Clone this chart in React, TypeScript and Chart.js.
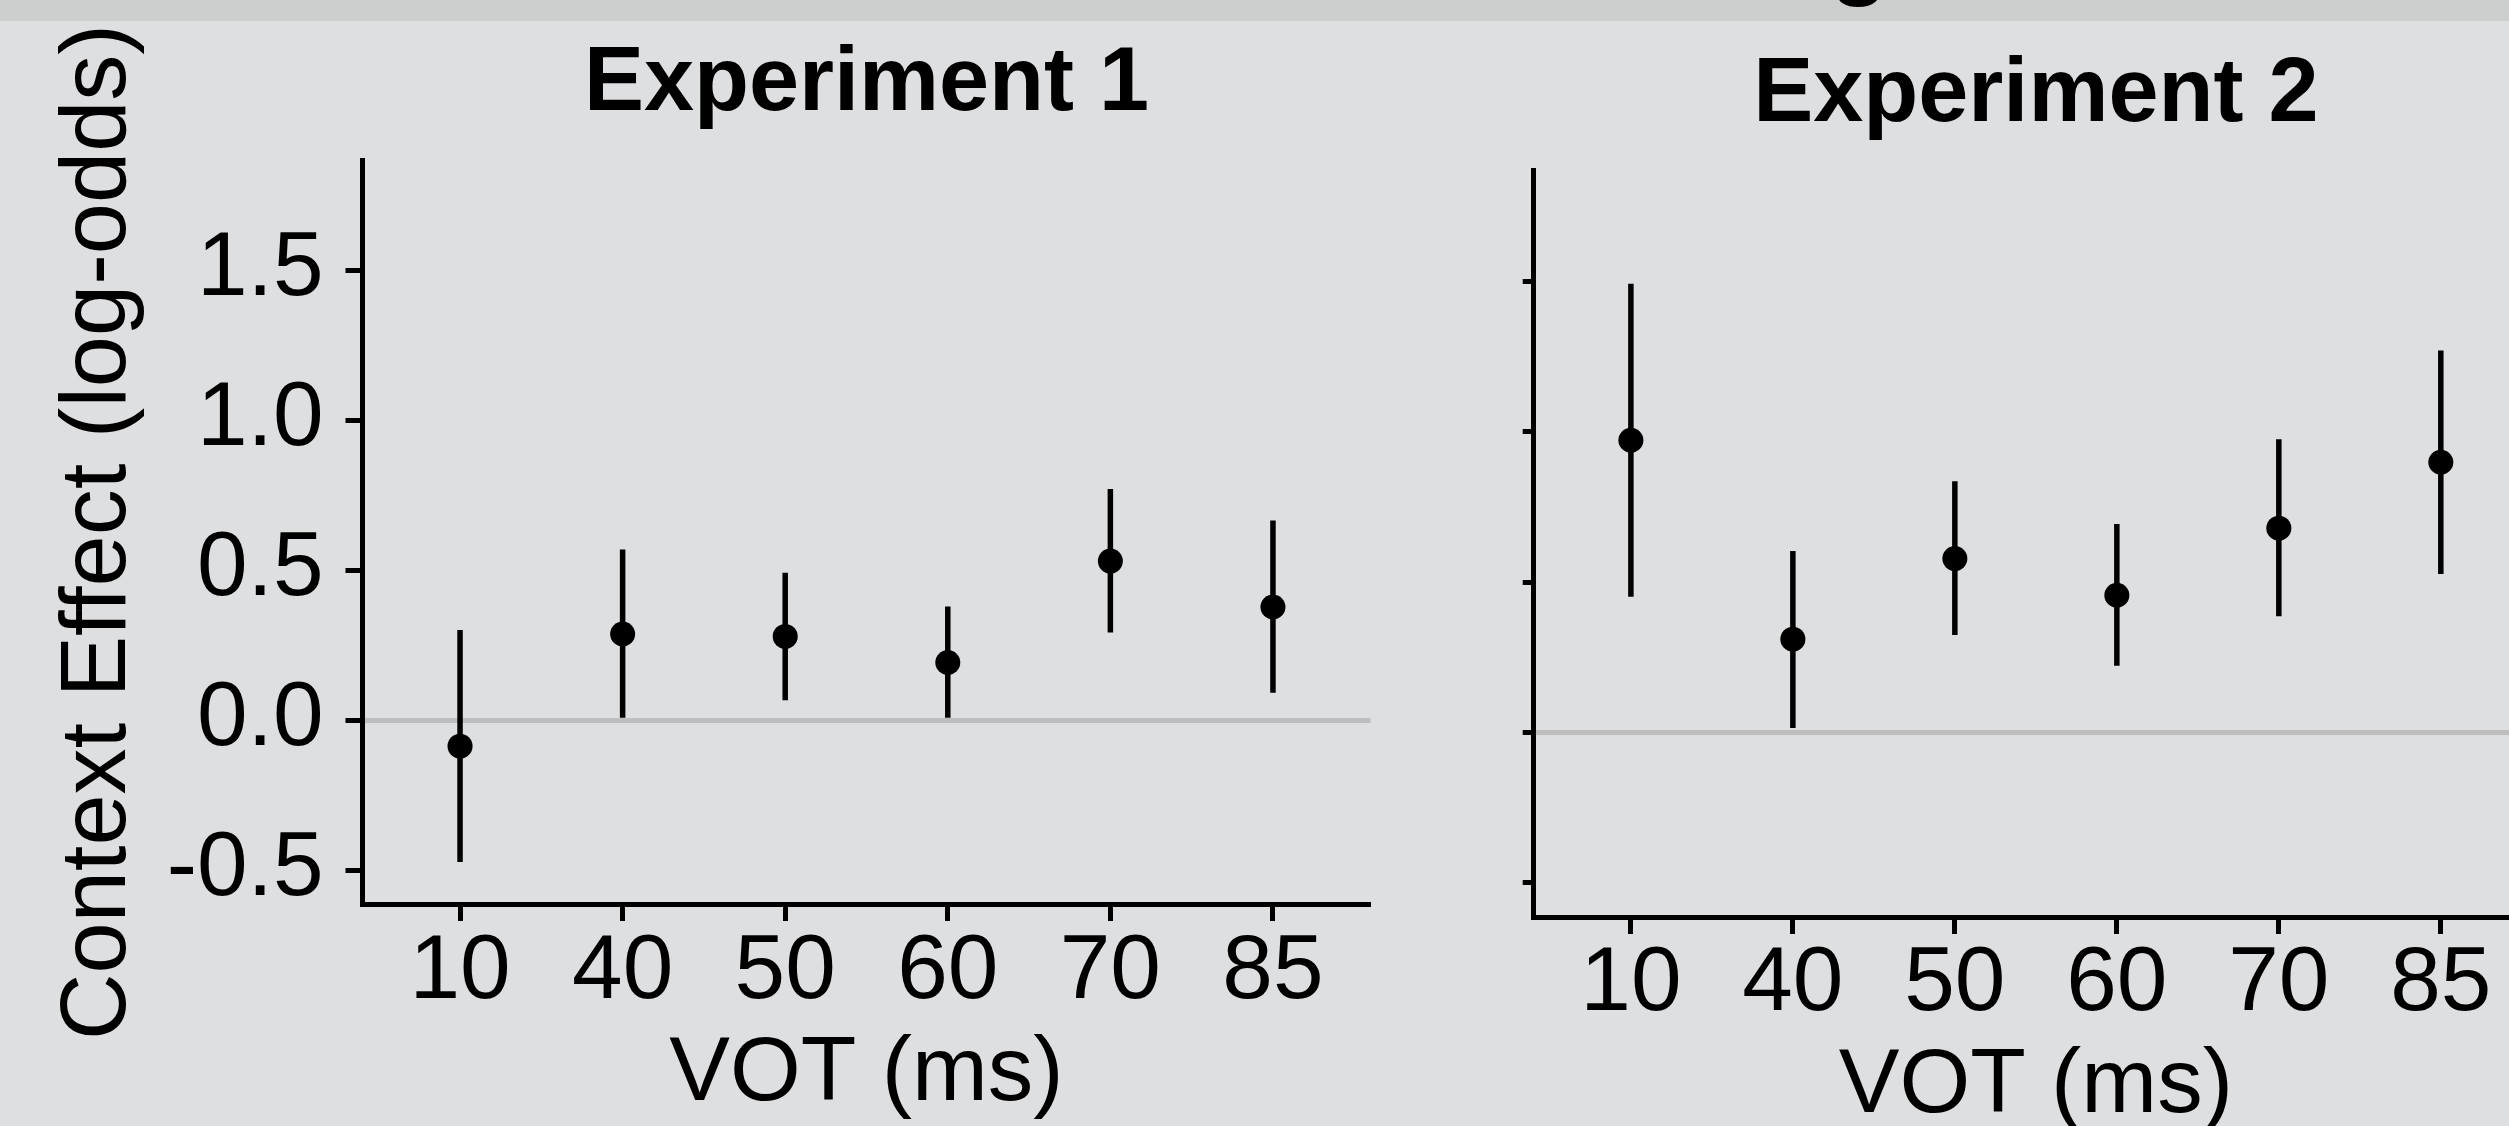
import React, { useEffect, useRef } from 'react';
import { Chart, registerables } from 'chart.js';

Chart.register(...registerables);

// ---- data ----
const VOT_LABELS = ['10', '40', '50', '60', '70', '85'];
const Y_TICKS = [-0.5, 0, 0.5, 1.0, 1.5];
const Y_MIN = -0.613;
const Y_MAX = 1.867;

const EXP1_EST = [-0.087, 0.287, 0.279, 0.192, 0.53, 0.377];
const EXP1_LO = [-0.473, 0.008, 0.066, 0.008, 0.292, 0.091];
const EXP1_HI = [0.3, 0.569, 0.491, 0.379, 0.77, 0.665];

const EXP2_EST = [0.971, 0.31, 0.578, 0.456, 0.679, 0.898];
const EXP2_LO = [0.451, 0.015, 0.324, 0.222, 0.386, 0.527];
const EXP2_HI = [1.491, 0.603, 0.835, 0.693, 0.974, 1.269];

// ---- styling ----
const FONT = "'Liberation Sans', Arial, Helvetica, sans-serif";
const BG = '#dedfe1';
const BAND = '#cdcfce';
const ZERO = '#bebebe';

type PanelSpec = {
  title: string;
  est: number[];
  lo: number[];
  hi: number[];
  yTitle?: string;
  showYLabels: boolean;
  canvasLeft: number;
  width: number;
  height: number;
  areaLeft: number;
  areaRight: number;
  areaTop: number;
  areaBottom: number;
  titlePadTop: number;
  yTickLen: number;
  xTickPad: number;
  xTitlePadBottom: number;
};

const PANELS: PanelSpec[] = [
  {
    title: 'Experiment 1',
    est: EXP1_EST,
    lo: EXP1_LO,
    hi: EXP1_HI,
    yTitle: 'Context Effect (log-odds)',
    showYLabels: true,
    canvasLeft: 0,
    width: 1400,
    height: 1160,
    areaLeft: 362.5,
    areaRight: 1370.5,
    areaTop: 160,
    areaBottom: 904,
    titlePadTop: 40,
    yTickLen: 17,
    xTickPad: 6,
    xTitlePadBottom: 40,
  },
  {
    title: 'Experiment 2',
    est: EXP2_EST,
    lo: EXP2_LO,
    hi: EXP2_HI,
    showYLabels: false,
    canvasLeft: 1400,
    width: 1160,
    height: 1160,
    areaLeft: 133.7,
    areaRight: 1138,
    areaTop: 170.6,
    areaBottom: 917,
    titlePadTop: 51,
    yTickLen: 11,
    xTickPad: 5,
    xTitlePadBottom: 28,
  },
];

function Panel({ spec }: { spec: PanelSpec }) {
  const ref = useRef<HTMLCanvasElement | null>(null);

  useEffect(() => {
    if (!ref.current) return;
    const s = spec;
    const xs = VOT_LABELS.map((_, i) => i + 1);

    const errorSets = xs.map((x, i) => ({
      type: 'line' as const,
      data: [
        { x, y: s.lo[i] },
        { x, y: s.hi[i] },
      ],
      borderColor: '#000',
      borderWidth: 5.5,
      borderCapStyle: 'butt' as const,
      pointRadius: 0,
      pointHoverRadius: 0,
      showLine: true,
      fill: false,
      order: 2,
    }));

    const chart = new Chart(ref.current, {
      type: 'scatter',
      data: {
        datasets: [
          {
            type: 'scatter',
            data: xs.map((x, i) => ({ x, y: s.est[i] })),
            backgroundColor: '#000',
            borderColor: '#000',
            borderWidth: 0,
            pointRadius: 12.5,
            pointHoverRadius: 12.5,
            order: 0,
          },
          ...errorSets,
        ] as any,
      },
      options: {
        animation: false,
        responsive: false,
        maintainAspectRatio: false,
        events: [],
        layout: {
          padding: { left: 0, top: 0, bottom: 0, right: s.width - s.areaRight },
        },
        plugins: {
          legend: { display: false },
          tooltip: { enabled: false },
          title: { display: false },
        },
        scales: {
          xTop: {
            type: 'linear',
            position: 'top',
            min: 0.4,
            max: 6.6,
            afterFit: (sc: any) => {
              sc.height = s.areaTop;
            },
            ticks: { display: false },
            grid: { display: false, drawTicks: false },
            border: { display: false },
            title: {
              display: true,
              text: s.title,
              color: '#000',
              font: { family: FONT, size: 90, weight: 'bold', lineHeight: 1 },
              padding: { top: s.titlePadTop, bottom: 0 },
            },
          },
          x: {
            type: 'linear',
            position: 'bottom',
            min: 0.4,
            max: 6.6,
            afterBuildTicks: (sc: any) => {
              sc.ticks = xs.map((v) => ({ value: v }));
            },
            afterFit: (sc: any) => {
              sc.height = s.height - s.areaBottom;
            },
            ticks: {
              autoSkip: false,
              maxRotation: 0,
              minRotation: 0,
              color: '#000',
              padding: s.xTickPad,
              font: { family: FONT, size: 91, lineHeight: 1 },
              callback: (_v: any, i: number) => VOT_LABELS[i],
            },
            grid: {
              drawOnChartArea: false,
              drawTicks: true,
              tickLength: 17,
              tickWidth: 5,
              tickColor: '#000',
            },
            border: { display: true, color: '#000', width: 5 },
            title: {
              display: true,
              text: 'VOT (ms)',
              color: '#000',
              font: { family: FONT, size: 91, lineHeight: 1 },
              padding: { top: 0, bottom: s.xTitlePadBottom },
            },
          },
          y: {
            type: 'linear',
            position: 'left',
            min: Y_MIN,
            max: Y_MAX,
            afterBuildTicks: (sc: any) => {
              sc.ticks = Y_TICKS.map((v) => ({ value: v }));
            },
            afterFit: (sc: any) => {
              sc.width = s.areaLeft;
            },
            ticks: {
              color: '#000',
              padding: 22,
              font: { family: FONT, size: 91, lineHeight: 1 },
              callback: (v: any) => (s.showYLabels ? Number(v).toFixed(1) : ''),
            },
            grid: {
              drawOnChartArea: true,
              drawTicks: true,
              tickLength: s.yTickLen,
              tickWidth: 5,
              tickColor: '#000',
              lineWidth: 5,
              color: (c: any) => (c.tick && c.tick.value === 0 ? ZERO : 'rgba(0,0,0,0)'),
            },
            border: { display: true, color: '#000', width: 5 },
            title: {
              display: !!s.yTitle,
              text: s.yTitle || '',
              color: '#000',
              font: { family: FONT, size: 92, lineHeight: 1 },
              padding: { top: 54, bottom: 0 },
            },
          },
        },
      } as any,
    });

    return () => chart.destroy();
  }, [spec]);

  return (
    <canvas
      ref={ref}
      width={spec.width}
      height={spec.height}
      style={{
        position: 'absolute',
        left: spec.canvasLeft,
        top: 0,
        width: spec.width,
        height: spec.height,
      }}
    />
  );
}

export default function App() {
  return (
    <div
      style={{
        position: 'fixed',
        left: 0,
        top: 0,
        width: 2509,
        height: 1126,
        overflow: 'hidden',
        background: BG,
      }}
    >
      {PANELS.map((p) => (
        <Panel key={p.title} spec={p} />
      ))}
      <div
        style={{
          position: 'absolute',
          left: 0,
          top: 0,
          width: 2509,
          height: 21,
          background: BAND,
          overflow: 'hidden',
          zIndex: 2,
        }}
      >
        <span
          style={{
            position: 'absolute',
            left: 1830,
            top: -94,
            fontFamily: FONT,
            fontWeight: 'bold',
            fontSize: 96,
            lineHeight: 1,
            color: '#000',
          }}
        >
          g
        </span>
      </div>
    </div>
  );
}
